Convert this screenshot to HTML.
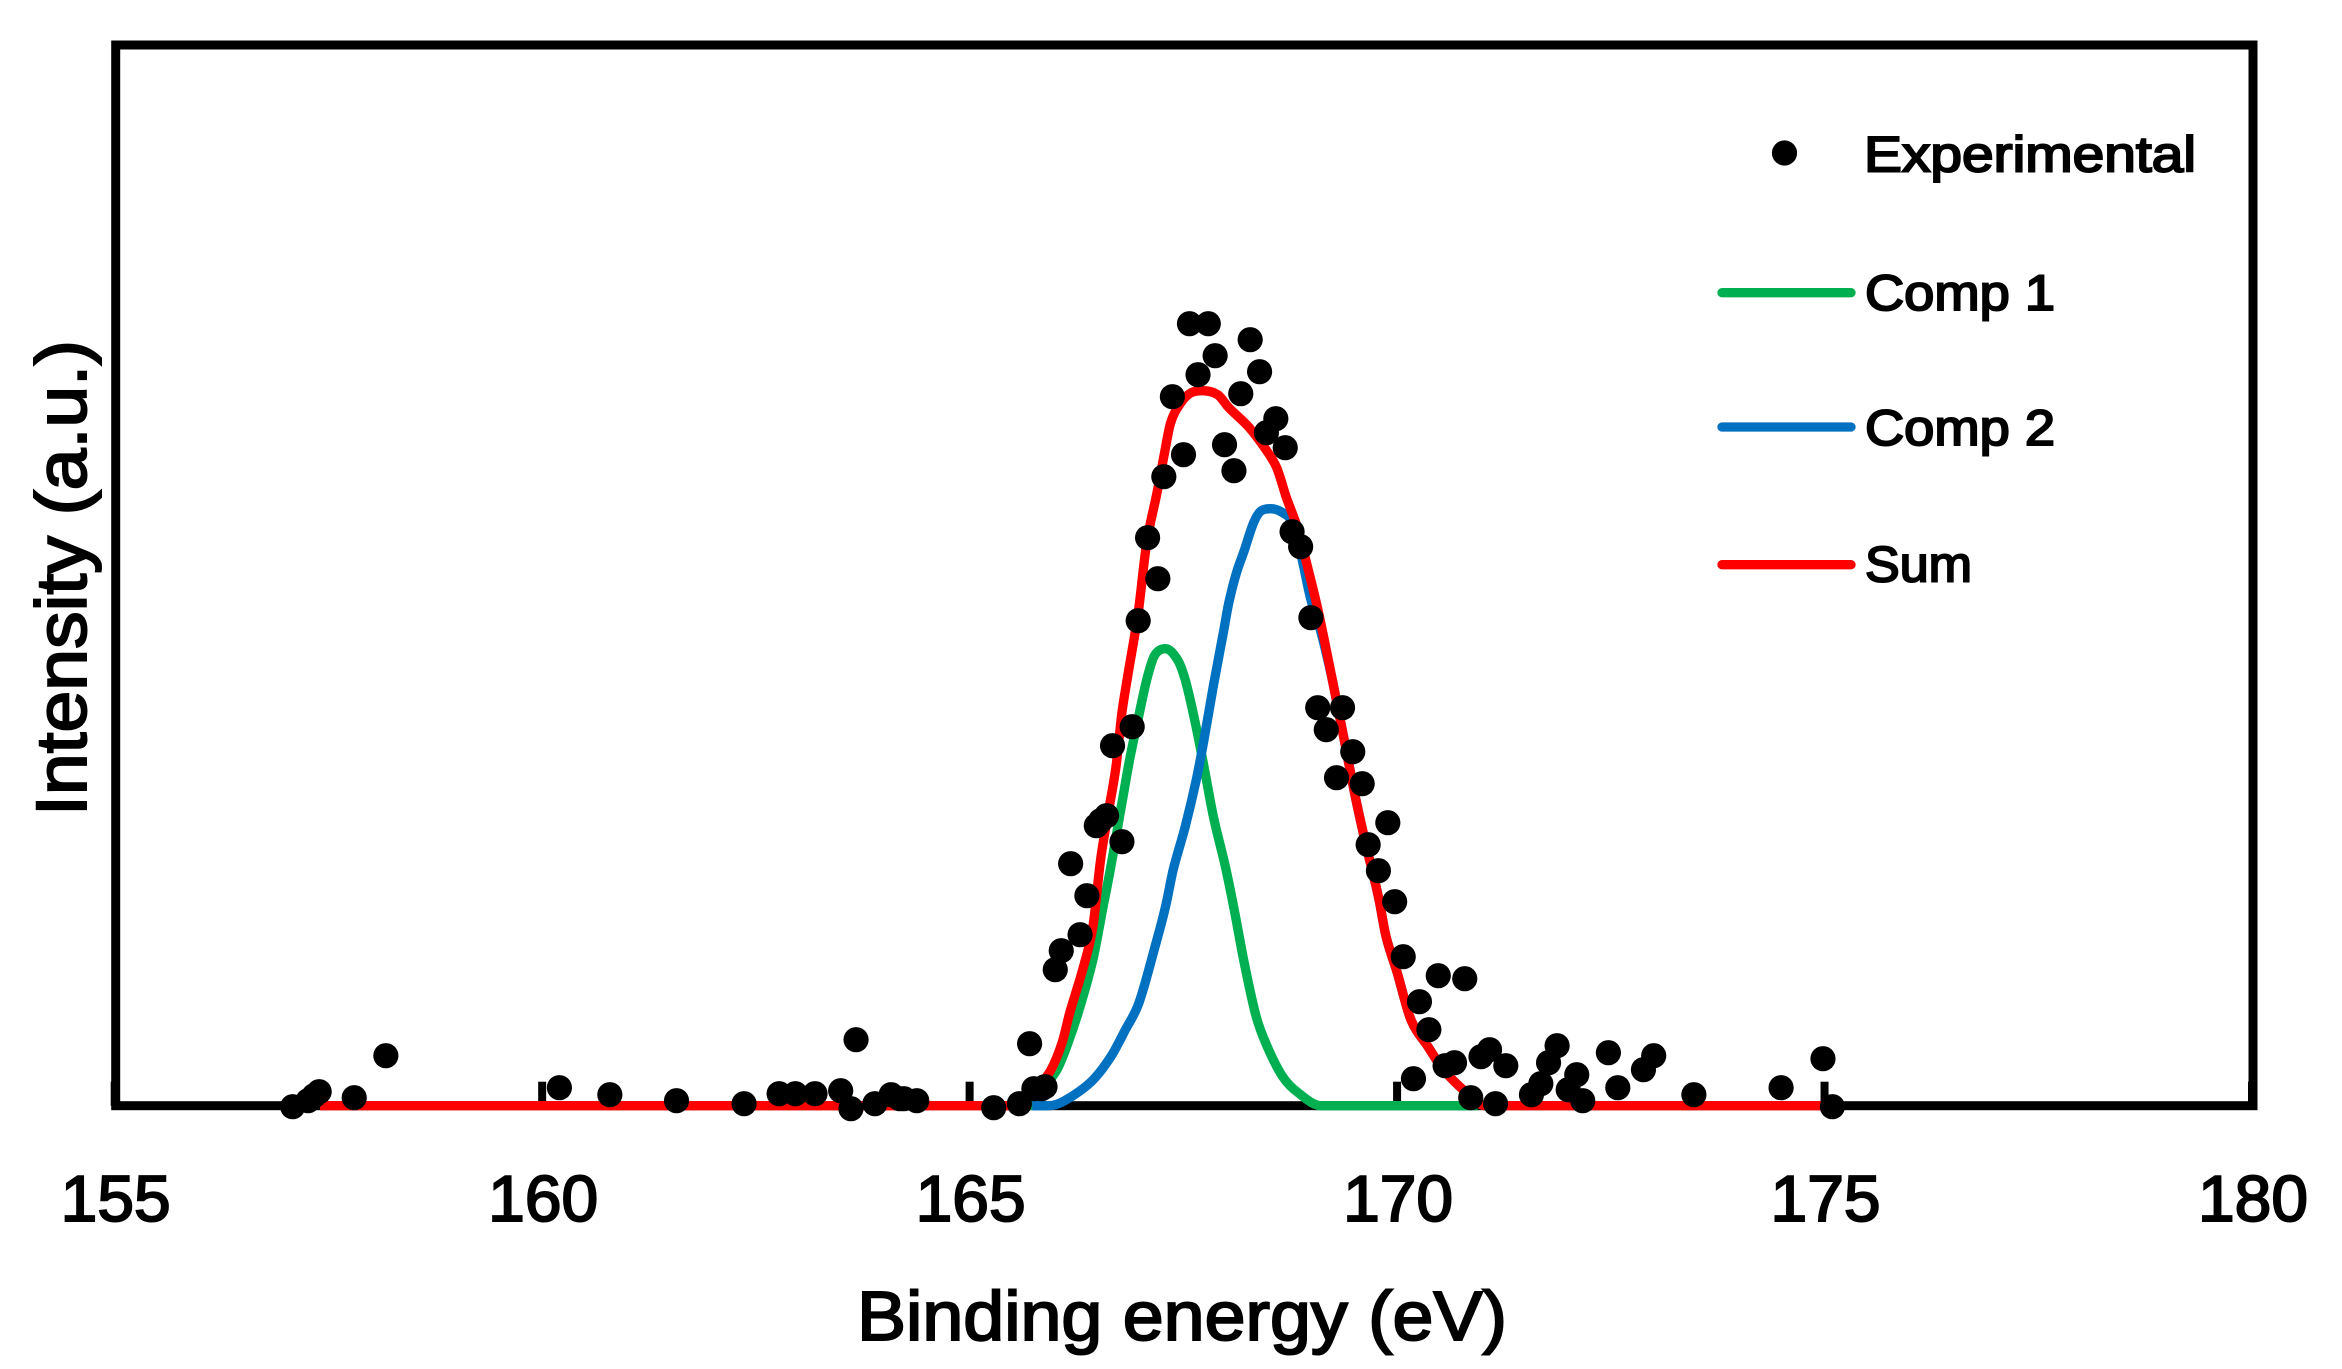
<!DOCTYPE html>
<html lang="en">
<head>
<meta charset="utf-8">
<title>XPS spectrum: binding energy vs intensity</title>
<style>
html,body{margin:0;padding:0;background:#fff;width:2342px;height:1369px;overflow:hidden}
svg{display:block}
text{font-family:"Liberation Sans",sans-serif;fill:#000;stroke:#000;stroke-width:2px}
</style>
</head>
<body>
<svg id="chart" xmlns="http://www.w3.org/2000/svg" width="2342" height="1369" viewBox="0 0 2342 1369">
  <rect x="0" y="0" width="2342" height="1369" fill="#fff"/>
  <g id="plot"></g>
  <text x="1182" y="1340" font-size="70" text-anchor="middle" textLength="650" lengthAdjust="spacingAndGlyphs">Binding energy (eV)</text>
  <text transform="translate(86,578) rotate(-90)" font-size="71" text-anchor="middle" textLength="476" lengthAdjust="spacingAndGlyphs">Intensity (a.u.)</text>
  <g>
    <g>
      <circle cx="1784.5" cy="153" r="12.6" fill="#000"/>
      <text x="1864" y="171.5" font-size="50" textLength="332" lengthAdjust="spacingAndGlyphs">Experimental</text>
    </g>
    <g>
      <line x1="1722" y1="292.7" x2="1851" y2="292.7" stroke="#00B050" stroke-width="9.3" stroke-linecap="round"/>
      <text x="1865" y="310" font-size="50" textLength="190" lengthAdjust="spacingAndGlyphs">Comp 1</text>
    </g>
    <g>
      <line x1="1722" y1="427" x2="1851" y2="427" stroke="#0070C0" stroke-width="9.3" stroke-linecap="round"/>
      <text x="1865" y="445" font-size="50" textLength="190" lengthAdjust="spacingAndGlyphs">Comp 2</text>
    </g>
    <g>
      <line x1="1722" y1="564.7" x2="1851" y2="564.7" stroke="#FF0000" stroke-width="9.3" stroke-linecap="round"/>
      <text x="1865" y="581.5" font-size="50" textLength="107" lengthAdjust="spacingAndGlyphs">Sum</text>
    </g>
  </g>
</svg>
<script>
const xTickValues = [155, 160, 165, 170, 175, 180];

const expEnergy = [157.07,157.25,157.32,157.38,157.79,158.16,160.19,160.78,161.56,162.35,162.76,162.95,163.18,163.48,163.60,163.66,163.88,164.07,164.17,164.22,164.37,165.27,165.57,165.69,165.74,165.83,165.87,165.99,166.06,166.17,166.28,166.36,166.47,166.52,166.59,166.66,166.77,166.89,166.96,167.07,167.19,167.26,167.36,167.49,167.56,167.66,167.78,167.86,167.97,168.08,168.16,168.27,168.38,168.46,168.57,168.68,168.76,168.86,168.98,169.06,169.16,169.28,169.35,169.47,169.58,169.65,169.77,169.88,169.96,170.06,170.18,170.25,170.36,170.47,170.55,170.66,170.78,170.85,170.97,171.07,171.14,171.26,171.56,171.67,171.76,171.86,171.99,172.09,172.16,172.46,172.57,172.87,172.99,173.46,174.48,174.97,175.08];
const expIntensity = [-1,5,10,14,8,50,18,11,5,2,12,12,12,15,-3,66,2,11,7,7,5,-2,2,62,17,17,19,136,155,242,171,210,280,285,290,360,264,379,485,568,527,629,709,651,782,731,782,750,661,635,712,766,734,673,687,658,574,559,488,398,376,328,398,354,322,261,235,283,204,149,27,104,76,130,40,43,127,8,49,56,2,40,11,22,43,60,16,31,5,53,18,36,50,11,18,47,-1];

const comp1Energy = [165.69,165.83,166.01,166.14,166.28,166.43,166.55,166.64,166.75,166.86,166.95,167.06,167.15,167.28,167.42,167.51,167.62,167.73,167.84,167.98,168.09,168.20,168.34,168.47,168.65,168.83,169.10,170.93];
const comp1Intensity = [0,16,36,63,99,146,199,239,293,346,383,426,450,457,446,426,386,339,289,239,193,143,89,59,29,13,0,0];

const comp2Energy = [165.72,165.92,166.10,166.41,166.64,166.81,166.97,167.17,167.28,167.37,167.51,167.64,167.73,167.84,167.96,168.02,168.11,168.20,168.31,168.40,168.51,168.65,168.76,168.87,168.98,169.10,169.23,169.37,169.50,169.63,169.77,169.86,169.99,170.15,170.35,170.53,170.80,171.02];
const comp2Intensity = [0,0,5,24,49,76,103,163,199,236,279,326,366,420,475,503,533,555,583,595,597,593,583,549,506,473,426,366,309,259,209,169,133,86,59,36,13,0];

const sumEnergy = [157.39,165.42,165.61,165.78,165.94,166.07,166.16,166.32,166.43,166.52,166.61,166.70,166.77,166.83,166.96,167.06,167.18,167.26,167.34,167.46,167.58,167.71,167.89,168.02,168.25,168.43,168.58,168.69,168.83,168.94,169.07,169.23,169.37,169.50,169.63,169.77,169.86,169.99,170.15,170.35,170.53,170.80,171.02,174.99];
const sumIntensity = [0,0,5,18,36,63,93,139,179,246,293,339,393,426,493,563,613,649,683,703,713,715,711,698,679,659,638,609,576,539,493,426,366,309,259,209,169,133,86,59,36,13,0,0];

const SVG_NS = 'http://www.w3.org/2000/svg';
const plot = document.getElementById('plot');
const left = 115.7, right = 2253, top_ = 45, bottom = 1105.7;
function xScale(e){ return left + (e - 155) * (right - left) / 25; }
function yScale(v){ return bottom - v; }

const frame = document.createElementNS(SVG_NS, 'rect');


frame.setAttribute('x', left);
frame.setAttribute('y', top_);
frame.setAttribute('width', right - left);
frame.setAttribute('height', bottom - top_);
frame.setAttribute('fill', 'none');
frame.setAttribute('stroke', '#000');
frame.setAttribute('stroke-width', '9');
plot.appendChild(frame);

xTickValues.forEach(function(t){
  const tick = document.createElementNS(SVG_NS, 'line');
  
  
  tick.setAttribute('x1', xScale(t) - 1);
  tick.setAttribute('x2', xScale(t) - 1);
  tick.setAttribute('y1', bottom);
  tick.setAttribute('y2', bottom - 24);
  tick.setAttribute('stroke', '#000');
  tick.setAttribute('stroke-width', '8');
  plot.appendChild(tick);

  const label = document.createElementNS(SVG_NS, 'text');
  
  
  label.setAttribute('x', xScale(t));
  label.setAttribute('y', 1221);
  label.setAttribute('font-size', '65');
  label.setAttribute('text-anchor', 'middle');
  label.setAttribute('textLength', '110');
  label.setAttribute('lengthAdjust', 'spacingAndGlyphs');
  label.textContent = t;
  plot.appendChild(label);
});

// Monotone cubic smoothing through the data points, in pixel space.
function linePath(xs, ys){
  const px = xs.map(xScale);
  const py = ys.map(yScale);
  const n = px.length;
  const m = new Array(n).fill(0);
  for (let i = 1; i < n - 1; i++) {
    const s0 = (py[i] - py[i-1]) / (px[i] - px[i-1]);
    const s1 = (py[i+1] - py[i]) / (px[i+1] - px[i]);
    if (s0 * s1 > 0) {
      const c = (py[i+1] - py[i-1]) / (px[i+1] - px[i-1]);
      m[i] = Math.sign(c) * Math.min(Math.abs(c), 3 * Math.abs(s0), 3 * Math.abs(s1));
    }
  }
  let d = 'M' + px[0].toFixed(1) + ' ' + py[0].toFixed(1);
  for (let i = 0; i < n - 1; i++) {
    const dx = (px[i+1] - px[i]) / 3;
    d += ' C' + (px[i] + dx).toFixed(1) + ' ' + (py[i] + m[i] * dx).toFixed(1) +
         ' ' + (px[i+1] - dx).toFixed(1) + ' ' + (py[i+1] - m[i+1] * dx).toFixed(1) +
         ' ' + px[i+1].toFixed(1) + ' ' + py[i+1].toFixed(1);
  }
  return d;
}

const comp1Line = document.createElementNS(SVG_NS, 'path');


comp1Line.setAttribute('d', linePath(comp1Energy, comp1Intensity));
comp1Line.setAttribute('fill', 'none');
comp1Line.setAttribute('stroke', '#00B050');
comp1Line.setAttribute('stroke-width', '9.3');
comp1Line.setAttribute('stroke-linejoin', 'round');
plot.appendChild(comp1Line);

const comp2Line = document.createElementNS(SVG_NS, 'path');


comp2Line.setAttribute('d', linePath(comp2Energy, comp2Intensity));
comp2Line.setAttribute('fill', 'none');
comp2Line.setAttribute('stroke', '#0070C0');
comp2Line.setAttribute('stroke-width', '9.3');
comp2Line.setAttribute('stroke-linejoin', 'round');
plot.appendChild(comp2Line);

const sumLine = document.createElementNS(SVG_NS, 'path');


sumLine.setAttribute('d', linePath(sumEnergy, sumIntensity));
sumLine.setAttribute('fill', 'none');
sumLine.setAttribute('stroke', '#FF0000');
sumLine.setAttribute('stroke-width', '9.3');
sumLine.setAttribute('stroke-linejoin', 'round');
plot.appendChild(sumLine);

expEnergy.forEach(function(e, i){
  const dot = document.createElementNS(SVG_NS, 'circle');
  
  
  dot.setAttribute('cx', xScale(e));
  dot.setAttribute('cy', yScale(expIntensity[i]));
  dot.setAttribute('r', '12.6');
  dot.setAttribute('fill', '#000');
  plot.appendChild(dot);
});
</script>
</body>
</html>
